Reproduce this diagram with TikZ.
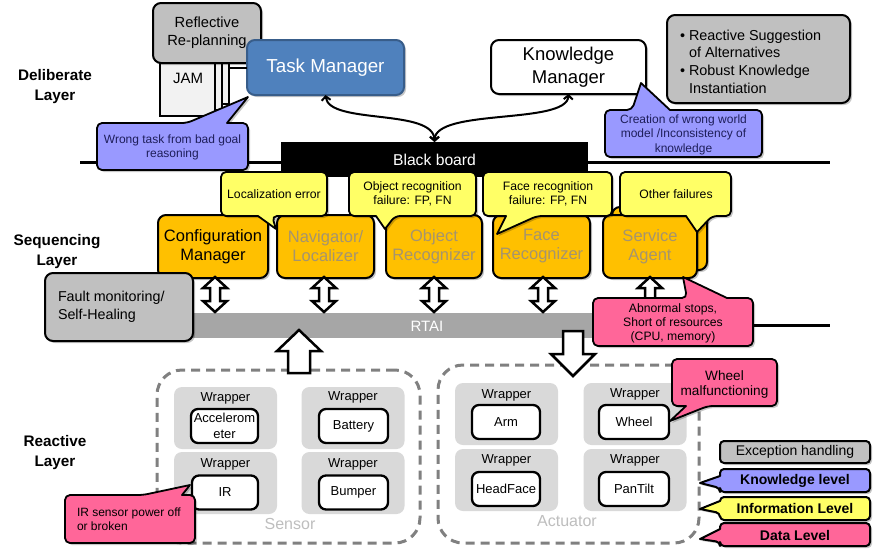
\documentclass[tikz,border=0pt]{standalone}
\usepackage{fontspec}
\setmainfont{Liberation Sans}
\usetikzlibrary{arrows.meta,shadows}
\definecolor{orng}{RGB}{255,192,0}
\definecolor{ylw}{RGB}{255,255,102}
\definecolor{purp}{RGB}{153,153,255}
\definecolor{pnk}{RGB}{255,102,153}
\definecolor{gbox}{RGB}{192,192,192}
\definecolor{rtaic}{RGB}{166,166,166}
\definecolor{wrapc}{RGB}{217,217,217}
\definecolor{tmblue}{RGB}{79,129,189}
\definecolor{tmedge}{RGB}{56,93,138}
\definecolor{fadetxt}{RGB}{165,148,110}
\definecolor{navy}{RGB}{30,30,90}
\definecolor{dashc}{RGB}{128,128,128}
\definecolor{grouptxt}{RGB}{190,190,190}
\definecolor{jamfill}{RGB}{242,242,242}
\newcommand{\fsz}[2]{\fontsize{#1}{#2}\selectfont}
% callout with pointer on top edge: style,x1,y1,x2,y2,bx1,bx2,tipx,tipy
\newcommand{\calT}[9]{\draw[#1] (#2,{(#3+#5)/2}) -- (#2,#3) -- (#6,#3) [sharp corners] -- (#8,#9) -- (#7,#3) [rounded corners=5pt] -- (#4,#3) -- (#4,#5) -- (#2,#5) -- cycle;}
% pointer on bottom edge
\newcommand{\calB}[9]{\draw[#1] (#2,{(#3+#5)/2}) -- (#2,#3) -- (#4,#3) -- (#4,#5) -- (#7,#5) [sharp corners] -- (#8,#9) -- (#6,#5) [rounded corners=5pt] -- (#2,#5) -- cycle;}
% pointer on left edge: style,x1,y1,x2,y2,by1,by2,tipx,tipy
\newcommand{\calL}[9]{\draw[#1] ({(#2+#4)/2},#3) -- (#4,#3) -- (#4,#5) -- (#2,#5) -- (#2,#7) [sharp corners] -- (#8,#9) -- (#2,#6) [rounded corners=4pt] -- (#2,#3) -- cycle;}
% vertical double block arrow: x, ytop, ybottom
\newcommand{\dblarr}[3]{\draw[blockarr] (#1,#2) -- ++(12,11) -- ++(-7,0) -- (#1+5,#3-11) -- ++(7,0) -- (#1,#3) -- ++(-12,-11) -- ++(7,0) -- (#1-5,#2+11) -- ++(-7,0) -- cycle;}
\begin{document}
\begin{tikzpicture}[x=1pt,y=-1pt,
  every node/.style={inner sep=0pt, outer sep=0pt},
  shd/.style={drop shadow={shadow xshift=2pt, shadow yshift=-2pt, opacity=0.22, fill=black}},
  box/.style={draw=black, line width=2pt, rounded corners=8pt, align=center},
  page/.style={draw=black, line width=2pt, fill=jamfill},
  mod/.style={box, fill=orng, minimum height=63pt, font=\fsz{16.5}{19}, shd},
  callp/.style={draw=black, line width=1.8pt, fill=purp, rounded corners=5pt, line join=round, shd},
  cally/.style={draw=black, line width=1.8pt, fill=ylw, rounded corners=5pt, line join=round, shd},
  callk/.style={draw=black, line width=1.8pt, fill=pnk, rounded corners=5pt, line join=round, shd},
  legstyle/.style={draw=black, line width=2pt, rounded corners=4pt, line join=round, shd},
  ctext/.style={font=\fsz{12}{14.5}, align=center},
  ytext/.style={font=\fsz{12.2}{14}, align=center},
  blockarr/.style={draw=black, line width=2.5pt, fill=white, line join=miter},
  layerline/.style={line width=3pt},
  conn/.style={line width=2pt, {Straight Barb[length=4pt,width=9pt]}-{Straight Barb[length=4pt,width=9pt]}},
  grp/.style={draw=dashc, line width=3pt, dash pattern=on 9pt off 6pt, rounded corners=25pt},
  wrap/.style={fill=wrapc, rounded corners=8pt, minimum width=103pt, minimum height=62pt},
  inner/.style={box, fill=white, line width=2.3pt, rounded corners=7pt, minimum height=34pt, font=\fsz{13}{16}},
  wlab/.style={font=\fsz{13}{16}},
  laylab/.style={font=\bfseries\fsz{15.3}{20}, align=center}
]
\fill[white] (0,0) rectangle (881,558);
\useasboundingbox (0,0) rectangle (881,558);

% layer separator lines
\coordinate (l1a) at (80,162); \coordinate (l1b) at (830,162);
\coordinate (l2a) at (100,325); \coordinate (l2b) at (830,325);
\draw[layerline] (l1a) -- (l1b);
\draw[layerline] (l2a) -- (l2b);

% blackboard
\node[fill=black, minimum width=307pt, minimum height=35pt, text=white, font=\fsz{15.7}{18}] (bb) at (434.5,159.5) {Black board};

% JAM stack
\node[page, minimum width=55pt, minimum height=59pt] (jam3) at (201.5,74.5) {};
\node[page, minimum width=55pt, minimum height=60pt] (jam2) at (194.5,80) {};
\node[page, minimum width=55pt, minimum height=66pt] (jam) at (187.5,83) {};
\node[font=\fsz{15}{18}] (jamlbl) at (188,78) {JAM};

% reflective re-planning
\node[box, fill=gbox, minimum width=108pt, minimum height=60pt, font=\fsz{14.7}{18}, shd] (refl) at (207,33) {Reflective\\Re-planning};

% task manager and knowledge manager
\node[box, fill=tmblue, draw=tmedge, text=white, minimum width=157pt, minimum height=55pt, font=\fsz{18.8}{21}, shd] (tm) at (325.5,67.5) {Task Manager};
\node[box, fill=white, minimum width=155pt, minimum height=54pt, font=\fsz{18.5}{22.5}, shd] (km) at (568.5,67) {Knowledge\\Manager};
\coordinate (jamr) at (229,67.5);
\draw[line width=2pt] (jamr) -- (tm.west);

\draw[conn] (tm.south) .. controls (329,125) and (434,108) .. (bb.north);
\draw[conn] (km.south) .. controls (567,125) and (435,108) .. (bb.north);

% exception handling box top right
\node[box, fill=gbox, minimum width=183pt, minimum height=88pt, shd] (alt) at (758.5,59) {};
\node[anchor=west, align=left, font=\fsz{14.4}{17.6}] (alttxt) at (680,61.5) {\textbullet\ Reactive Suggestion\\\phantom{\textbullet\ }of Alternatives\\\textbullet\ Robust Knowledge\\\phantom{\textbullet\ }Instantiation};

% knowledge-level callouts
\calT{callp}{97}{123}{248}{170}{187}{227}{248}{97}
\node[ctext, text=navy] (wt) at (172.5,147.5) {Wrong task from bad goal\\reasoning};
\calT{callp}{605}{110}{762}{157}{632}{670}{641}{83}
\node[ctext, text=navy] (cw) at (683.5,134.5) {Creation of wrong world\\model /Inconsistency of\\knowledge};

% sequencing modules
\node[mod, minimum width=110pt] (cfg) at (213,246.5) {Configuration\\Manager};
\node[mod, minimum width=97pt, text=fadetxt] (nav) at (325.5,246.5) {Navigator/\\Localizer};
\node[mod, minimum width=96pt, text=fadetxt] (obj) at (434,246.5) {Object\\Recognizer};
\node[mod, minimum width=97pt, text=fadetxt] (face) at (541.5,246.5) {Face\\Recognizer};
\node[mod, minimum width=95pt] (servb) at (659.5,238.5) {};
\node[mod, minimum width=94pt, text=fadetxt] (serv) at (650,246.5) {Service\\Agent};

% information-level callouts
\calB{cally}{221}{172}{327}{216}{258}{272}{276}{229}
\node[ytext] (locl) at (274,194) {Localization error};
\calB{cally}{349}{172}{476}{216}{376}{395}{385}{229}
\node[ytext] (objl) at (412.5,194) {Object recognition\\failure: FP, FN};
\calB{cally}{483}{172}{612}{216}{506}{537}{497}{234}
\node[ytext] (facel) at (548,194) {Face recognition\\failure: FP, FN};
\calB{cally}{620}{172}{731}{216}{686}{712}{697}{232}
\node[ytext] (othl) at (676,194) {Other failures};

% RTAI and double arrows
\node[fill=rtaic, minimum width=410pt, minimum height=25pt] (rtai) at (395,325.5) {};
\node[text=white, font=\fsz{15}{18}] (rtail) at (427,326) {RTAI};
\dblarr{215}{277}{312}
\dblarr{324}{277}{312}
\dblarr{434}{277}{312}
\dblarr{543}{277}{312}
\dblarr{650}{277}{312}

% fault monitoring
\node[box, fill=gbox, minimum width=148pt, minimum height=68pt, shd] (fault) at (119,307) {};
\node[anchor=west, align=left, font=\fsz{14.3}{18}] (faultl) at (58,307) {Fault monitoring/\\Self-Healing};

% data-level callout abnormal
\calT{callk}{593}{298}{753}{346}{687}{727}{683}{277}
\node[ytext] (abn) at (673,323) {Abnormal stops,\\Short of resources\\(CPU, memory)};

% groups
\node[grp, minimum width=263pt, minimum height=173pt] (sensor) at (288.5,456.5) {};
\node[grp, minimum width=261pt, minimum height=178pt] (act) at (568.5,454) {};
\node[text=grouptxt, font=\fsz{16}{19}] (sensl) at (290,524) {Sensor};
\node[text=grouptxt, font=\fsz{16}{19}] (actl) at (567,521) {Actuator};

% block arrows
\draw[blockarr] (299,330) -- (321,351) -- (310,351) -- (310,373) -- (288,373) -- (288,351) -- (277,351) -- cycle;
\draw[blockarr] (563,331) -- (583,331) -- (583,354) -- (595,354) -- (573,376) -- (551,354) -- (563,354) -- cycle;

% sensor wrappers
\node[wrap] (wacc) at (225.5,418) {};
\node[wrap] (wbat) at (353,418) {};
\node[wrap] (wir) at (225.5,483) {};
\node[wrap] (wbmp) at (353,483) {};
\node[wlab] (lacc) at (225.5,398) {Wrapper};
\node[wlab] (lbat) at (353,397) {Wrapper};
\node[wlab] (lir) at (225.5,464) {Wrapper};
\node[wlab] (lbmp) at (353,464) {Wrapper};
\node[inner, minimum width=67pt] (acc) at (224.5,426) {Accelerom\\eter};
\node[inner, minimum width=69pt] (bat) at (353.5,426) {Battery};
\node[inner, minimum width=66pt] (ir) at (225,492.5) {IR};
\node[inner, minimum width=69pt] (bmp) at (353.5,492.5) {Bumper};

% actuator wrappers
\node[wrap] (warm) at (506.5,414) {};
\node[wrap] (wwhl) at (635,414) {};
\node[wrap] (whead) at (506.5,480) {};
\node[wrap] (wpan) at (635,480) {};
\node[wlab] (larm) at (506.5,395) {Wrapper};
\node[wlab] (lwhl) at (635,394) {Wrapper};
\node[wlab] (lhead) at (506.5,460) {Wrapper};
\node[wlab] (lpan) at (635,460) {Wrapper};
\node[inner, minimum width=68pt] (arm) at (506,422) {Arm};
\node[inner, minimum width=70pt] (whl) at (634,422) {Wheel};
\node[inner, minimum width=68pt] (head) at (506,489) {HeadFace};
\node[inner, minimum width=70pt] (pan) at (634,489) {PanTilt};

% data-level callouts
\calB{callk}{672}{359}{777}{406}{686}{708}{670}{421}
\node[font=\fsz{13.6}{15}, align=center] (whlc) at (724.5,384.5) {Wheel\\malfunctioning};
\calT{callk}{65}{495}{195}{543}{143}{182}{190}{485}
\node[anchor=west, align=left, font=\fsz{12}{14}] (irc) at (77,519) {IR sensor power off\\or broken};

% legend
\node[box, fill=gbox, rounded corners=4pt, minimum width=150pt, minimum height=22pt, font=\fsz{14}{16}, shd] (exc) at (795,452) {Exception handling};
\calL{legstyle, fill=purp}{720}{469}{870}{492}{476}{488}{700}{483}
\node[font=\bfseries\fsz{14}{16}] (kl) at (795,481) {Knowledge level};
\calL{legstyle, fill=ylw}{720}{497}{870}{520}{501}{513}{700}{509}
\node[font=\bfseries\fsz{14}{16}] (il) at (795,508.5) {Information Level};
\calL{legstyle, fill=pnk}{720}{523}{870}{546}{529}{542}{700}{539}
\node[font=\bfseries\fsz{14}{16}] (dl) at (795,535) {Data Level};

% layer labels
\node[laylab] (lay1) at (55,87) {Deliberate\\Layer};
\node[laylab] (lay2) at (57,251.5) {Sequencing\\Layer};
\node[laylab] (lay3) at (55,453) {Reactive\\Layer};
\end{tikzpicture}
\end{document}
